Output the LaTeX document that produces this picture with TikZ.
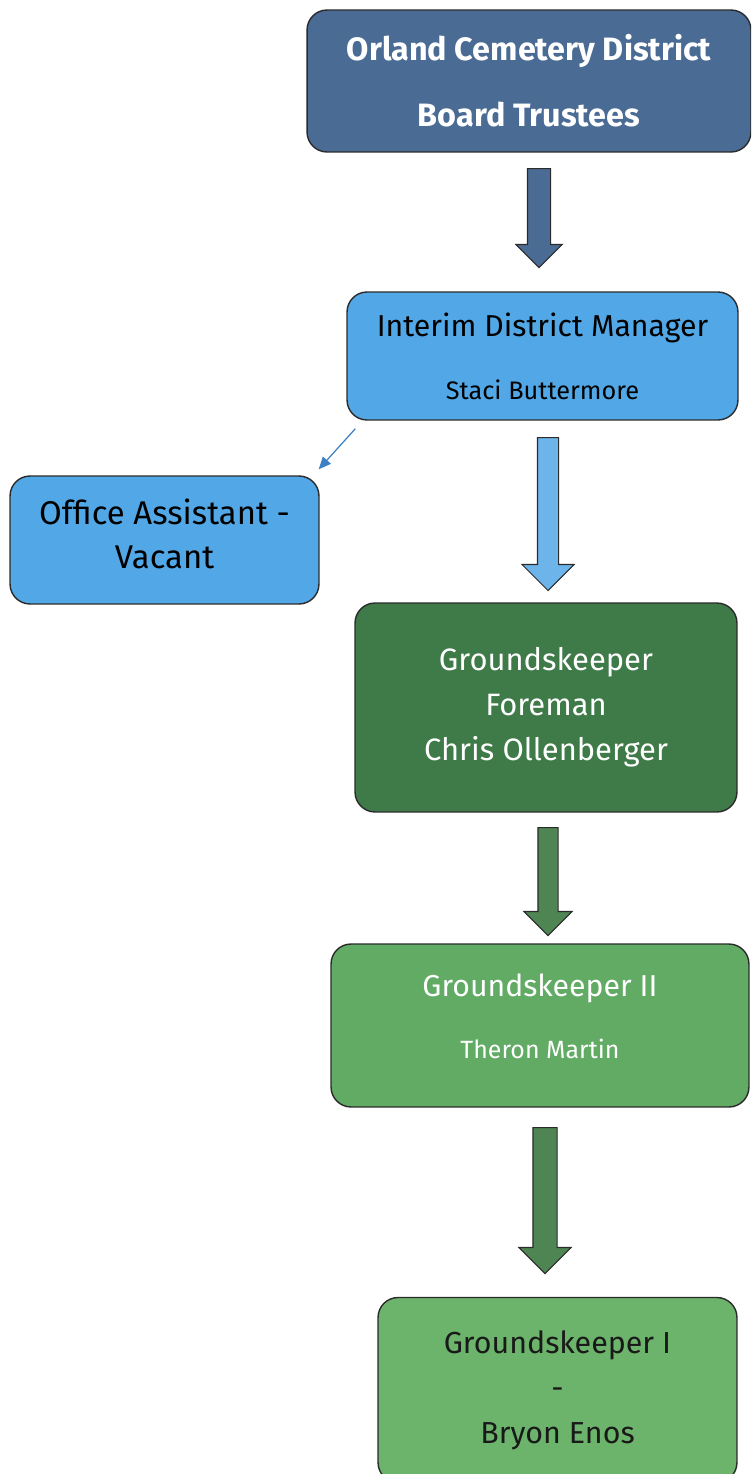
\documentclass[tikz,border=0pt]{standalone}
\usepackage{fontspec}
\setmainfont{Fira Sans}
\usetikzlibrary{shapes.arrows,arrows.meta}
\definecolor{boardblue}{HTML}{4A6B94}
\definecolor{staffblue}{HTML}{52A7E6}
\definecolor{arrowblue}{HTML}{6DB4EA}
\definecolor{linkblue}{HTML}{3C80C6}
\definecolor{foregreen}{HTML}{3F7B49}
\definecolor{keepgreen}{HTML}{61AB65}
\definecolor{lightgreen}{HTML}{6CB46B}
\definecolor{arrowgreen}{HTML}{4F8553}
\definecolor{edge}{HTML}{2B2B2B}
\tikzset{
  orgbox/.style={rectangle,rounded corners=0.4cm,draw=edge,line width=0.8pt,align=center,inner sep=0pt},
  downarrow/.style 2 args={single arrow,shape border rotate=270,draw=edge,line width=0.6pt,
    inner sep=#1,single arrow head extend=#2,anchor=tail}
}
\begin{document}
\begin{tikzpicture}[x=0.02cm,y=-0.02cm]
\fill[white] (0,0) rectangle (751,1474);
\clip (0,0) rectangle (751,1474);
%=======boxes=============
\node[orgbox,fill=boardblue,text=white,minimum width=8.88cm,minimum height=2.84cm,
  font=\bfseries\fontsize{18.4}{37.5}\selectfont] (board) at (529,81)
  {Orland Cemetery District\\Board Trustees};
\node[orgbox,fill=staffblue,minimum width=7.82cm,minimum height=2.56cm,
  font=\fontsize{17.2}{35.8}\selectfont] (manager) at (542.5,356)
  {Interim District Manager\\{\fontsize{14.4}{15}\selectfont Staci Buttermore}};
\node[orgbox,fill=staffblue,minimum width=6.18cm,minimum height=2.56cm,text depth=7pt,
  font=\fontsize{18.7}{25}\selectfont] (office) at (164.5,540)
  {Office Assistant -\\Vacant};
\node[orgbox,fill=foregreen,text=white,minimum width=7.64cm,minimum height=4.18cm,
  font=\fontsize{17.6}{25.6}\selectfont] (foreman) at (546,707.5)
  {Groundskeeper\\Foreman\\Chris Ollenberger};
\node[orgbox,fill=keepgreen,text=white,minimum width=8.36cm,minimum height=3.26cm,text depth=11pt,
  font=\fontsize{17.2}{35.3}\selectfont] (keeper2) at (540,1025.5)
  {Groundskeeper II\\{\fontsize{14.2}{15}\selectfont Theron Martin}};
\node[orgbox,fill=lightgreen,text=black!90,minimum width=7.18cm,minimum height=3.7cm,
  font=\fontsize{17.3}{25.6}\selectfont] (keeper1) at (557.5,1390)
  {Groundskeeper I\\-\\Bryon Enos};
%=======arrows=============
\node[downarrow={0.22cm}{0.23cm},fill=boardblue,minimum height=1.98cm] (a1) at (539,168) {};
\node[downarrow={0.2cm}{0.31cm},fill=arrowblue,minimum height=3.06cm] (a2) at (548,437) {};
\node[downarrow={0.19cm}{0.28cm},fill=arrowgreen,minimum height=2.16cm] (a3) at (548,827) {};
\node[downarrow={0.23cm}{0.28cm},fill=arrowgreen,minimum height=2.92cm] (a4) at (545,1127) {};
\draw[linkblue,line width=0.7pt,-{Triangle[length=7pt,width=6pt]}]
  ([shift={(9,8)}]manager.south west) -- ([shift={(-1,-6)}]office.north east);
\end{tikzpicture}
\end{document}
